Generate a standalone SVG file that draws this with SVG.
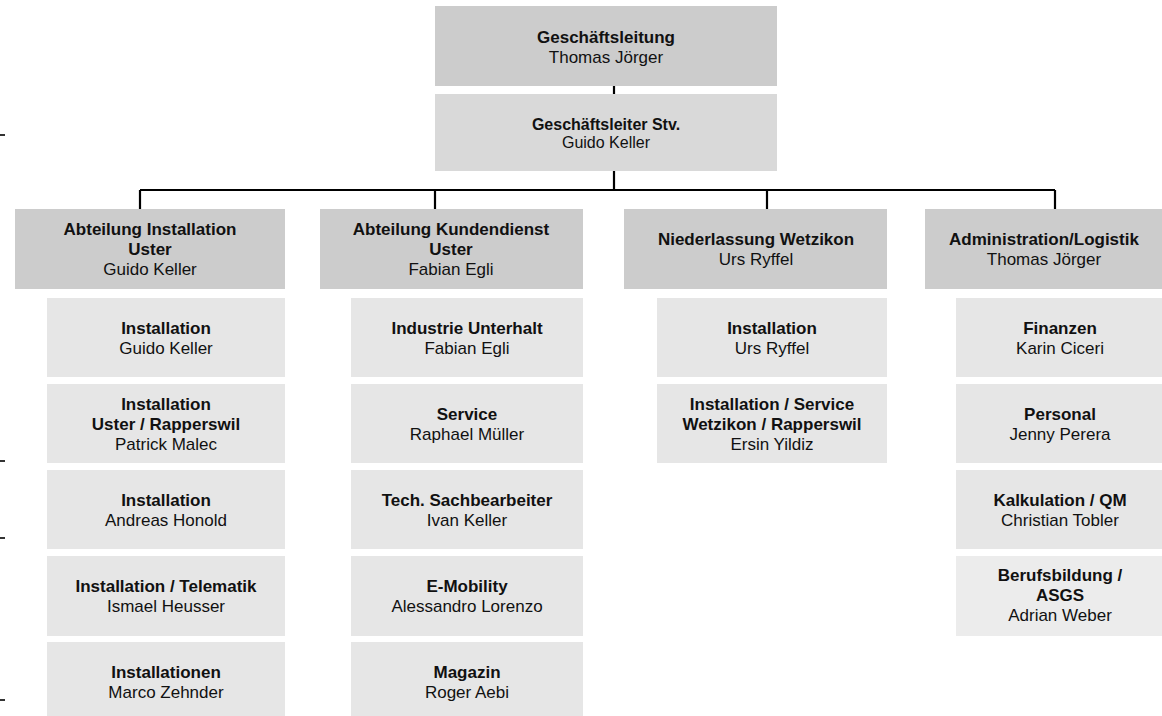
<svg xmlns="http://www.w3.org/2000/svg" width="1162" height="716" viewBox="0 0 1162 716">
<style>
text{font-family:"Liberation Sans",Arial,sans-serif;font-size:17px;fill:#111;text-anchor:middle}
.b{font-weight:bold}
.s{font-size:16px}
.l1{fill:#cccccc}
.l2{fill:#d9d9d9}
.l3{fill:#e6e6e6}
.l4{fill:#ececec}
.c{stroke:#000;stroke-width:2.2;fill:none}
.t{stroke:#000;stroke-width:1.6}
</style>
<rect width="1162" height="716" fill="#fff"/>
<g id="ticks">
<line class="t" x1="0" y1="135" x2="5" y2="135"/>
<line class="t" x1="0" y1="461" x2="5" y2="461"/>
<line class="t" x1="0" y1="538" x2="5" y2="538"/>
<line class="t" x1="0" y1="700" x2="5" y2="700"/>
</g>
<g id="connectors">
<path class="c" d="M614 86V94M614 171V190M140 190H1055M140 190V209M435 190V209M767 190V209M1055 190V209"/>
</g>
<g id="geschaeftsleitung"><rect class="l1" x="435" y="6" width="342" height="80"/><text x="606" y="43" class="b">Geschäftsleitung</text><text x="606" y="63">Thomas Jörger</text></g>
<g id="stellvertreter"><rect class="l2" x="435" y="94" width="342" height="77"/><text x="606" y="130" class="b s">Geschäftsleiter Stv.</text><text x="606" y="148" class="s">Guido Keller</text></g>

<g id="abt-installation"><rect class="l1" x="15" y="209" width="270" height="80"/><text x="150" y="235" class="b">Abteilung Installation</text><text x="150" y="255" class="b">Uster</text><text x="150" y="275">Guido Keller</text></g>
<g id="abt-kundendienst"><rect class="l1" x="320" y="209" width="263" height="80"/><text x="451" y="235" class="b">Abteilung Kundendienst</text><text x="451" y="255" class="b">Uster</text><text x="451" y="275">Fabian Egli</text></g>
<g id="nl-wetzikon"><rect class="l1" x="624" y="209" width="263" height="80"/><text x="756" y="245" class="b">Niederlassung Wetzikon</text><text x="756" y="265">Urs Ryffel</text></g>
<g id="administration"><rect class="l1" x="925" y="209" width="237" height="80"/><text x="1044" y="245" class="b">Administration/Logistik</text><text x="1044" y="265">Thomas Jörger</text></g>

<g id="a1"><rect class="l3" x="47" y="298" width="238" height="79"/><text x="166" y="334" class="b">Installation</text><text x="166" y="354">Guido Keller</text></g>
<g id="a2"><rect class="l3" x="47" y="384" width="238" height="79"/><text x="166" y="410" class="b">Installation</text><text x="166" y="430" class="b">Uster / Rapperswil</text><text x="166" y="450">Patrick Malec</text></g>
<g id="a3"><rect class="l3" x="47" y="470" width="238" height="79"/><text x="166" y="506" class="b">Installation</text><text x="166" y="526">Andreas Honold</text></g>
<g id="a4"><rect class="l3" x="47" y="556" width="238" height="80"/><text x="166" y="592" class="b">Installation / Telematik</text><text x="166" y="612">Ismael Heusser</text></g>
<g id="a5"><rect class="l3" x="47" y="642" width="238" height="74"/><text x="166" y="678" class="b">Installationen</text><text x="166" y="698">Marco Zehnder</text></g>

<g id="b1"><rect class="l3" x="351" y="298" width="232" height="79"/><text x="467" y="334" class="b">Industrie Unterhalt</text><text x="467" y="354">Fabian Egli</text></g>
<g id="b2"><rect class="l3" x="351" y="384" width="232" height="79"/><text x="467" y="420" class="b">Service</text><text x="467" y="440">Raphael Müller</text></g>
<g id="b3"><rect class="l3" x="351" y="470" width="232" height="79"/><text x="467" y="506" class="b">Tech. Sachbearbeiter</text><text x="467" y="526">Ivan Keller</text></g>
<g id="b4"><rect class="l3" x="351" y="556" width="232" height="80"/><text x="467" y="592" class="b">E-Mobility</text><text x="467" y="612">Alessandro Lorenzo</text></g>
<g id="b5"><rect class="l3" x="351" y="642" width="232" height="74"/><text x="467" y="678" class="b">Magazin</text><text x="467" y="698">Roger Aebi</text></g>

<g id="c1"><rect class="l3" x="657" y="298" width="230" height="79"/><text x="772" y="334" class="b">Installation</text><text x="772" y="354">Urs Ryffel</text></g>
<g id="c2"><rect class="l3" x="657" y="384" width="230" height="79"/><text x="772" y="410" class="b">Installation / Service</text><text x="772" y="430" class="b">Wetzikon / Rapperswil</text><text x="772" y="450">Ersin Yildiz</text></g>

<g id="d1"><rect class="l3" x="956" y="298" width="206" height="79"/><text x="1060" y="334" class="b">Finanzen</text><text x="1060" y="354">Karin Ciceri</text></g>
<g id="d2"><rect class="l3" x="956" y="384" width="206" height="79"/><text x="1060" y="420" class="b">Personal</text><text x="1060" y="440">Jenny Perera</text></g>
<g id="d3"><rect class="l3" x="956" y="470" width="206" height="79"/><text x="1060" y="506" class="b">Kalkulation / QM</text><text x="1060" y="526">Christian Tobler</text></g>
<g id="d4"><rect class="l4" x="956" y="556" width="206" height="80"/><text x="1060" y="581" class="b">Berufsbildung /</text><text x="1060" y="601" class="b">ASGS</text><text x="1060" y="621">Adrian Weber</text></g>
</svg>
